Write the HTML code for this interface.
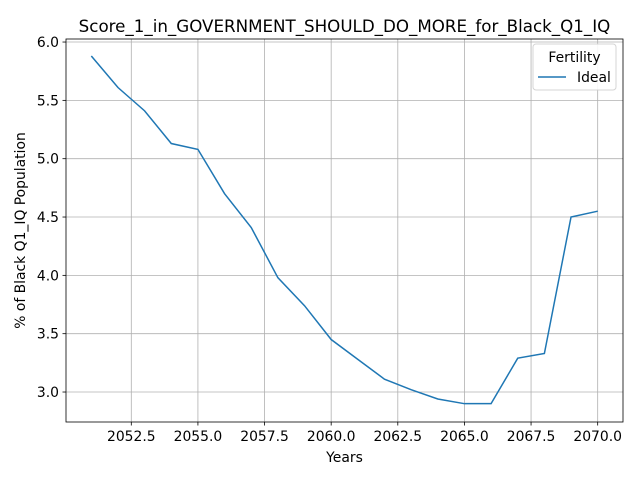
<!DOCTYPE html>
<html><head><meta charset="utf-8"><style>
body{margin:0;background:#fff;font-family:"Liberation Sans","DejaVu Sans",sans-serif}
svg text{font-family:"DejaVu Sans","Liberation Sans",sans-serif}
</style></head><body>
<svg id="c" width="640" height="480"></svg>
<script>
const years=[2051,2052,2053,2054,2055,2056,2057,2058,2059,2060,2061,2062,2063,2064,2065,2066,2067,2068,2069,2070];
const ideal=[5.88,5.61,5.41,5.13,5.08,4.70,4.41,3.98,3.74,3.45,3.28,3.11,3.02,2.94,2.90,2.90,3.29,3.33,4.50,4.55];
const xTicks=[2052.5,2055.0,2057.5,2060.0,2062.5,2065.0,2067.5,2070.0];
const yTicks=[3.0,3.5,4.0,4.5,5.0,5.5,6.0];
const L=66,R=623,T=39,B=422;
const xMin=2050.05,xMax=2070.95,yMin=2.743,yMax=6.026;
const X=v=>L+(v-xMin)/(xMax-xMin)*(R-L);
const Y=v=>B-(v-yMin)/(yMax-yMin)*(B-T);
const s=document.getElementById('c');const NS='http://www.w3.org/2000/svg';
function el(t,a,p){const e=document.createElementNS(NS,t);for(const k in a)e.setAttribute(k,a[k]);(p||s).appendChild(e);return e;}
xTicks.forEach(v=>{const x=X(v);
const g=el('line',{x1:x,x2:x,y1:T,y2:B,stroke:'#b0b0b0','stroke-width':0.8});

el('line',{x1:x,x2:x,y1:B,y2:B+3.5,stroke:'#000','stroke-width':0.8});
const t=el('text',{x:x,y:B+19,'text-anchor':'middle','font-size':13.9,fill:'#000'});t.textContent=v.toFixed(1);
});
yTicks.forEach(v=>{const y=Y(v);
const g=el('line',{x1:L,x2:R,y1:y,y2:y,stroke:'#b0b0b0','stroke-width':0.8});

el('line',{x1:L-3.5,x2:L,y1:y,y2:y,stroke:'#000','stroke-width':0.8});
const t=el('text',{x:L-7,y:y+5,'text-anchor':'end','font-size':13.9,fill:'#000'});t.textContent=v.toFixed(1);
});
const p=el('polyline',{points:years.map((yr,i)=>X(yr)+','+Y(ideal[i])).join(' '),fill:'none',stroke:'#1f77b4','stroke-width':1.5});

const fr=el('rect',{x:L,y:T,width:R-L,height:B-T,fill:'none',stroke:'#000','stroke-width':0.8});

const ti=el('text',{x:(L+R)/2,y:T-7,'text-anchor':'middle','font-size':16.7});ti.textContent='Score_1_in_GOVERNMENT_SHOULD_DO_MORE_for_Black_Q1_IQ';

const xl=el('text',{x:(L+R)/2,y:462,'text-anchor':'middle','font-size':13.9});xl.textContent='Years';

const yl=el('text',{x:25,y:(T+B)/2,'text-anchor':'middle','font-size':13.9,transform:'rotate(-90 25 '+((T+B)/2)+')'});yl.textContent='% of Black Q1_IQ Population';

const lg=el('g',{});
el('rect',{x:533,y:44,width:83,height:46,rx:3,fill:'#fff',stroke:'#d0d0d0','stroke-width':1,opacity:0.9},lg);
const lt=el('text',{x:574.5,y:62,'text-anchor':'middle','font-size':13.9},lg);lt.textContent='Fertility';

el('line',{x1:538,x2:566,y1:77,y2:77,stroke:'#1f77b4','stroke-width':1.5},lg);
const le=el('text',{x:577,y:82,'font-size':13.9},lg);le.textContent='Ideal';

</script>
</body></html>
